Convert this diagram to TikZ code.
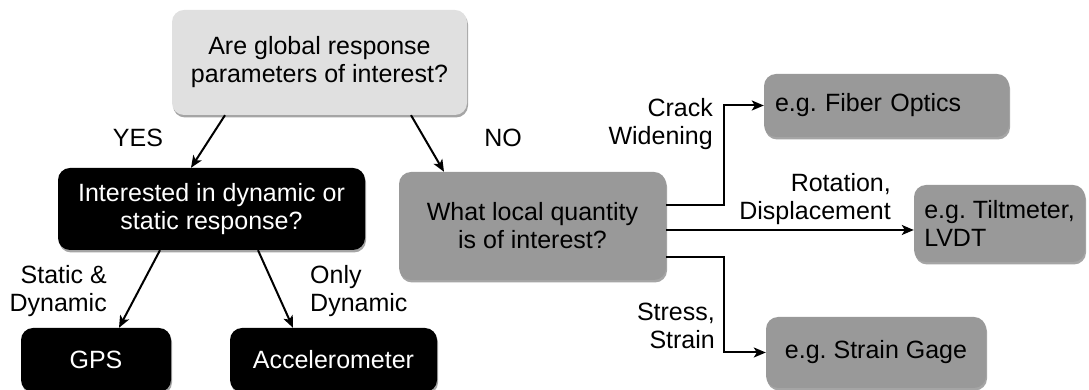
\documentclass[tikz,border=0pt]{standalone}
\usepackage{fontspec}
\setmainfont{Liberation Sans}
\usetikzlibrary{arrows.meta, shadows}

\begin{document}
\begin{tikzpicture}[x=1pt,y=1pt,
  box/.style={rounded corners=12pt, align=center, inner sep=0pt,
    font=\fontsize{25}{28}\selectfont,
    drop shadow={shadow xshift=1pt, shadow yshift=-2.5pt, fill=black!70, opacity=0.5}},
  lightbox/.style={box, fill=black!12},
  darkbox/.style={box, fill=black, text=white},
  greybox/.style={box, fill=black!40},
  lbl/.style={font=\fontsize{25}{28}\selectfont, inner sep=0pt},
  arr/.style={-{Stealth[length=12pt, width=10pt, inset=3pt]}, line width=2pt}]
\useasboundingbox (0,0) rectangle (1089,390);
% boxes
\node[lightbox, minimum width=295pt, minimum height=105pt] (global) at (319.5,327.5) {Are global response\\parameters of interest?};
\node[darkbox, minimum width=307pt, minimum height=82pt] (dynstat) at (211.5,181) {Interested in dynamic or\\static response?};
\node[darkbox, minimum width=150pt, minimum height=64pt] (gps) at (96,30) {GPS};
\node[darkbox, minimum width=207pt, minimum height=64pt] (accel) at (333.5,30) {Accelerometer};
\node[greybox, minimum width=267pt, minimum height=108pt] (local) at (532.5,164) {What local quantity\\is of interest?};
\node[greybox, minimum height=63pt, inner xsep=11pt, text width=223pt, align=left] (fiber) at (886.5,284.5) {e.g.\ Fiber Optics};
\node[greybox, minimum width=171pt, minimum height=77pt, align=left] (tilt) at (999.5,166.5) {e.g.\ Tiltmeter,\\LVDT};
\node[greybox, minimum width=220pt, minimum height=71pt] (gage) at (876,37.5) {e.g.\ Strain Gage};
% connectors
\draw[arr] ([xshift=-94.5pt]global.south) -- ([xshift=-20.5pt]dynstat.north);
\draw[arr] ([xshift=91.5pt]global.south) -- ([xshift=-88.5pt]local.north);
\draw[arr] ([xshift=-51.5pt]dynstat.south) -- ([xshift=23pt]gps.north);
\draw[arr] ([xshift=46.5pt]dynstat.south) -- ([xshift=-40.5pt]accel.north);
\draw[arr] ([yshift=21pt]local.east) -- ++(58,0) |- (fiber.west);
\draw[arr] ([yshift=-4pt]local.east) -- ([yshift=-4pt]local.east -| tilt.west);
\draw[arr] ([yshift=-31pt]local.east) -- ++(58,0) |- (gage.west);
% labels
\node[lbl] (yes) at (138,252) {YES};
\node[lbl] (no) at (503,252) {NO};
\node[lbl, align=right, anchor=east] (both) at (107,99) {Static \&\\Dynamic};
\node[lbl, align=left, anchor=west] (only) at (310,99) {Only\\Dynamic};
\node[lbl, align=right, anchor=east] (crack) at (713,266) {Crack\\Widening};
\node[lbl, align=right, anchor=east] (rot) at (891,191) {Rotation,\\Displacement};
\node[lbl, align=right, anchor=east] (stress) at (715,64) {Stress,\\Strain};
\end{tikzpicture}
\end{document}
